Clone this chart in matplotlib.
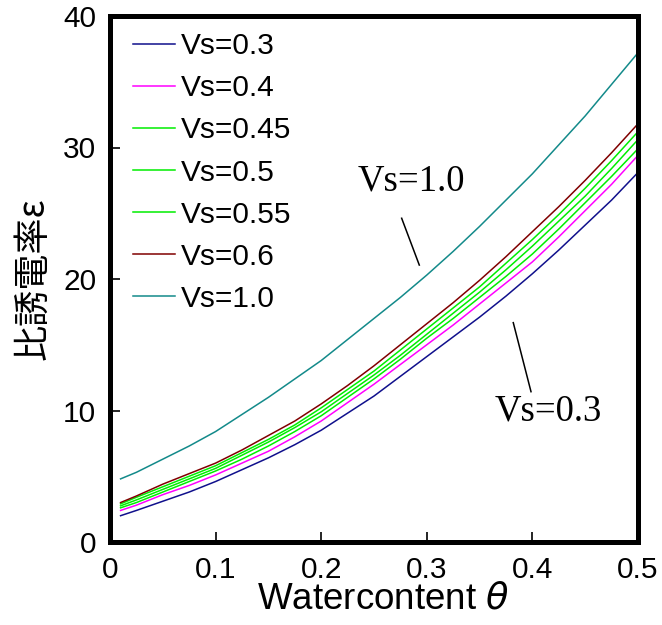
import matplotlib
matplotlib.use('Agg')
import matplotlib.pyplot as plt

# water content (volume fraction)
theta = [0.01, 0.025, 0.05, 0.075, 0.10, 0.125, 0.15, 0.175, 0.20, 0.225, 0.25,
         0.275, 0.30, 0.325, 0.35, 0.375, 0.40, 0.425, 0.45, 0.475, 0.50]

eps_vs030 = [2.0, 2.4, 3.1, 3.8, 4.6, 5.5, 6.4, 7.4, 8.5, 9.8, 11.1,
             12.6, 14.1, 15.6, 17.1, 18.7, 20.4, 22.2, 24.1, 26.0, 28.1]
eps_vs040 = [2.4, 2.8, 3.6, 4.3, 5.1, 6.0, 6.9, 8.0, 9.2, 10.6, 12.0,
             13.5, 15.0, 16.5, 18.1, 19.7, 21.3, 23.2, 25.2, 27.2, 29.4]
eps_vs045 = [2.6, 3.0, 3.8, 4.6, 5.4, 6.3, 7.3, 8.4, 9.6, 11.0, 12.4,
             13.9, 15.5, 17.0, 18.6, 20.2, 21.9, 23.8, 25.8, 27.8, 29.9]
eps_vs050 = [2.75, 3.2, 4.0, 4.8, 5.6, 6.6, 7.6, 8.7, 9.9, 11.3, 12.7,
             14.2, 15.8, 17.4, 19.0, 20.7, 22.5, 24.4, 26.3, 28.4, 30.6]
eps_vs055 = [2.9, 3.4, 4.2, 5.0, 5.8, 6.8, 7.8, 8.9, 10.2, 11.6, 13.0,
             14.6, 16.2, 17.8, 19.4, 21.2, 23.0, 24.9, 26.9, 29.0, 31.2]
eps_vs060 = [3.0, 3.5, 4.4, 5.2, 6.0, 7.0, 8.1, 9.2, 10.5, 11.9, 13.4,
             15.0, 16.6, 18.2, 19.9, 21.7, 23.6, 25.5, 27.5, 29.6, 31.8]
eps_vs100 = [4.8, 5.3, 6.3, 7.3, 8.4, 9.7, 11.0, 12.4, 13.8, 15.4, 17.0,
             18.6, 20.3, 22.1, 24.0, 26.0, 28.0, 30.2, 32.4, 34.8, 37.2]

labels = ['Vs=0.3', 'Vs=0.4', 'Vs=0.45', 'Vs=0.5', 'Vs=0.55', 'Vs=0.6', 'Vs=1.0']
colors = ['#10108c', '#ff00ff', '#00ee00', '#00ee00', '#00ee00', '#800000', '#138a8a']
series = [eps_vs030, eps_vs040, eps_vs045, eps_vs050, eps_vs055, eps_vs060, eps_vs100]

plt.rcParams['font.family'] = ['Liberation Sans', 'Noto Sans CJK JP', 'DejaVu Sans']

fig = plt.figure(figsize=(6.62, 6.25), dpi=100)
ax = fig.add_axes([0.1662, 0.1328, 0.7975, 0.8416])

for y, c, lb in zip(series, colors, labels):
    ax.plot(theta, y, color=c, lw=1.1, label=lb)

ax.set_xlim(0, 0.5); ax.set_ylim(0, 40)
ax.set_xticks([0, 0.1, 0.2, 0.3, 0.4, 0.5])
ax.set_xticklabels(['0', '0.1', '0.2', '0.3', '0.4', '0.5'])
ax.set_yticks([0, 10, 20, 30, 40])
ax.tick_params(direction='in', length=7, width=1.2, labelsize=21.5, pad=10)
for s in ax.spines.values(): s.set_linewidth(3.6)

ax.set_xlabel('Watercontent $\\theta$', fontsize=26.5, labelpad=2)
ax.xaxis.set_label_coords(0.517, -0.075)
ax.set_ylabel('比誘電率ε', fontsize=26, labelpad=8,
              family=['Noto Sans CJK JP', 'DejaVu Sans'])

ax.legend(loc='upper left', bbox_to_anchor=(0.012, 1.0), frameon=False, fontsize=21.5,
          handlelength=1.4, handletextpad=0.2, labelspacing=0.47, borderaxespad=0.15)

# curve labels with leader lines
ax.plot([0.2762, 0.2929], [24.62, 21.06], color='k', lw=1.1)
ax.plot([0.3819, 0.3987], [16.68, 11.43], color='k', lw=1.1)
ax.text(0.285, 27.4, 'Vs=1.0', family='Liberation Serif', fontsize=26.5, ha='center', va='center')
ax.text(0.4148, 9.96, 'Vs=0.3', family='Liberation Serif', fontsize=26.5, ha='center', va='center')

fig.savefig('out.png', dpi=100)
